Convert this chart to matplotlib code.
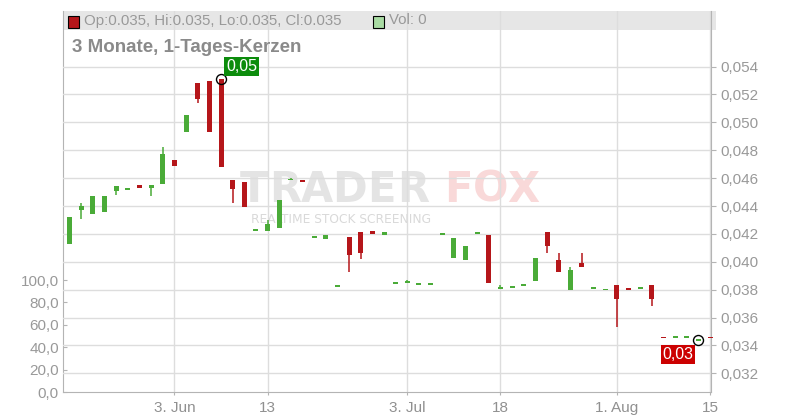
import matplotlib
matplotlib.use('Agg')
import matplotlib.pyplot as plt
from matplotlib.patches import Rectangle
import numpy as np

plt.rcParams['font.family'] = ['Liberation Sans', 'DejaVu Sans']

# Tageskerzen (3 Monate) - Open / High / Low / Close
opens = [0.0413, 0.0437, 0.0434, 0.0436, 0.0451, 0.0452, 0.0455, 0.0453, 0.0456, 0.0473,
         0.0493, 0.0528, 0.0530, 0.0531, 0.0459, 0.0457, 0.0423, 0.0422, 0.0424, 0.0459,
         0.0459, 0.0418, 0.0416, 0.0382, 0.0418, 0.0421, 0.0422, 0.0419, 0.0385, 0.0385,
         0.0384, 0.0384, 0.0420, 0.0403, 0.0401, 0.0420, 0.0419, 0.0381, 0.0382, 0.0383,
         0.0386, 0.0421, 0.0401, 0.0380, 0.0399, 0.0381, 0.0380, 0.0383, 0.0381, 0.0381,
         0.0383, 0.0346, 0.0346, 0.0346, 0.0344, 0.0346]
highs = [0.0432, 0.0442, 0.0447, 0.0447, 0.0454, 0.0452, 0.0455, 0.0455, 0.0482, 0.0473,
         0.0505, 0.0528, 0.0530, 0.0531, 0.0459, 0.0457, 0.0423, 0.0430, 0.0444, 0.0460,
         0.0459, 0.0418, 0.0419, 0.0383, 0.0418, 0.0421, 0.0422, 0.0421, 0.0385, 0.0387,
         0.0384, 0.0384, 0.0420, 0.0417, 0.0411, 0.0421, 0.0419, 0.0383, 0.0382, 0.0384,
         0.0403, 0.0421, 0.0406, 0.0396, 0.0406, 0.0381, 0.0380, 0.0383, 0.0381, 0.0381,
         0.0383, 0.0346, 0.0346, 0.0346, 0.0344, 0.0346]
lows = [0.0413, 0.0431, 0.0434, 0.0436, 0.0448, 0.0452, 0.0453, 0.0447, 0.0456, 0.0469,
        0.0493, 0.0514, 0.0493, 0.0468, 0.0442, 0.0439, 0.0422, 0.0422, 0.0424, 0.0459,
        0.0457, 0.0418, 0.0416, 0.0382, 0.0393, 0.0402, 0.0420, 0.0419, 0.0385, 0.0385,
        0.0384, 0.0384, 0.0419, 0.0403, 0.0401, 0.0420, 0.0385, 0.0381, 0.0382, 0.0383,
        0.0386, 0.0406, 0.0393, 0.0380, 0.0396, 0.0381, 0.0380, 0.0353, 0.0380, 0.0381,
        0.0368, 0.03455, 0.0346, 0.0346, 0.0344, 0.03455]
closes = [0.0432, 0.0440, 0.0447, 0.0447, 0.0454, 0.0452, 0.0453, 0.0455, 0.0477, 0.0469,
          0.0505, 0.0517, 0.0493, 0.0468, 0.0452, 0.0439, 0.0423, 0.0427, 0.0444, 0.0459,
          0.0457, 0.0418, 0.0419, 0.0383, 0.0405, 0.0406, 0.0420, 0.0421, 0.0385, 0.0386,
          0.0384, 0.0384, 0.0420, 0.0417, 0.0411, 0.0421, 0.0385, 0.0381, 0.0382, 0.0384,
          0.0403, 0.0411, 0.0393, 0.0394, 0.0396, 0.0381, 0.0380, 0.0373, 0.0380, 0.0381,
          0.0373, 0.03455, 0.0346, 0.0346, 0.0344, 0.03455]

xtick_pos = [9, 17, 29, 37, 47, 55]
xtick_labels = ['3. Jun', '13', '3. Jul', '18', '1. Aug', '15']
price_ticks = [0.032, 0.034, 0.036, 0.038, 0.040, 0.042, 0.044, 0.046, 0.048, 0.050, 0.052, 0.054]
vol_ticks = [0, 20, 40, 60, 80, 100]

green = '#4aab38'
red = '#b5161a'
grau = '#999999'

fig = plt.figure(figsize=(8, 4.2), dpi=100)
fig.patch.set_facecolor('white')

# Achsen (Pixel -> Bruchteil)
L, R, T, B = 63, 711, 10.5, 392.3
axv = fig.add_axes([L / 800, 1 - B / 420, (R - L) / 800, (B - T) / 420])
axv.patch.set_visible(False)
ax = axv.twinx()

x = np.arange(len(opens))
o = np.array(opens); c = np.array(closes); h = np.array(highs); lo = np.array(lows)
farben = np.where(c >= o, green, red)

# Dochte
for i in x:
    if h[i] > lo[i]:
        ax.vlines(i, lo[i], h[i], color=farben[i], lw=1.1, zorder=3)
# Koerper
minh = 0.00012
hoehe = np.abs(c - o)
unten = np.minimum(o, c)
mitte = (o + c) / 2
unten = np.where(hoehe < minh, mitte - minh / 2, unten)
hoehe = np.maximum(hoehe, minh)
ax.bar(x, hoehe, bottom=unten, width=0.43, color=farben, zorder=4, clip_on=False)

# Hoch / Tief Markierungen
imax = int(np.argmax(h)); imin = int(np.argmin(lo))
ax.plot(imax, h[imax], 'o', mfc='none', mec='black', ms=7.2, mew=1, zorder=6)
ax.plot(imin, lo[imin], 'o', mfc='none', mec='black', ms=7.2, mew=1, zorder=6)
ax.annotate('0,05', xy=(imax, h[imax]), xytext=(5, 5), textcoords='offset pixels',
            ha='left', va='bottom', color='white', fontsize=11.5, zorder=7,
            bbox=dict(boxstyle='square,pad=0.12', fc='#0c8c0c', ec='none'))
ax.annotate('0,03', xy=(imin, lo[imin]), xytext=(-5, -7), textcoords='offset pixels',
            ha='right', va='top', color='white', fontsize=11.5, zorder=7,
            bbox=dict(boxstyle='square,pad=0.12', fc='#cc0000', ec='none'))

# Preisachse rechts
ax.set_ylim(0.030636, 0.058024)
ax.set_yticks(price_ticks)
ax.set_yticklabels([('%.3f' % v).replace('.', ',') for v in price_ticks])
ax.tick_params(axis='y', direction='out', length=3.6, width=0.8, color='#b4b4b4',
               labelsize=11, labelcolor=grau, pad=3.4)
ax.set_axisbelow(True)
ax.grid(axis='y', color='#dddddd', lw=1)

# Volumenachse links
axv.set_ylim(0, 340)
axv.set_yticks(vol_ticks)
axv.set_yticklabels([('%.1f' % v).replace('.', ',') for v in vol_ticks])
axv.tick_params(axis='y', direction='in', length=3.2, width=0.8, color='#b4b4b4',
                labelsize=11, labelcolor=grau, pad=3)
axv.set_xlim(-0.575, 55.08)
axv.set_xticks(xtick_pos)
axv.set_xticklabels(xtick_labels)
axv.tick_params(axis='x', direction='out', length=2.2, width=0.8, color='#b4b4b4',
                labelsize=11, labelcolor='#909090', pad=4)
axv.set_axisbelow(True)
axv.grid(axis='x', color='#dddddd', lw=1)

for s in ['top', 'right']:
    axv.spines[s].set_visible(False)
for s in ['top', 'left', 'bottom']:
    ax.spines[s].set_visible(False)
axv.spines['left'].set_color('#b4b4b4')
axv.spines['bottom'].set_color('#b4b4b4')
ax.spines['right'].set_color('#b4b4b4')

# Kopfzeile
fig.add_artist(Rectangle((63 / 800, 1 - 30 / 420), (716 - 63) / 800, 19 / 420,
                         transform=fig.transFigure, fc='#e6e6e6', ec='none', zorder=-1))
fig.add_artist(Rectangle((68 / 800, 1 - 27.5 / 420), 11 / 800, 11 / 420,
                         transform=fig.transFigure, fc=red, ec='black', lw=0.8, zorder=5))
fig.text(84 / 800, 1 - 20.5 / 420, 'Op:0.035, Hi:0.035, Lo:0.035, Cl:0.035',
         fontsize=10.8, color=grau, va='center', ha='left')
fig.add_artist(Rectangle((373 / 800, 1 - 27.5 / 420), 11 / 800, 11 / 420,
                         transform=fig.transFigure, fc='#a9dba3', ec='black', lw=0.8, zorder=5))
fig.text(389 / 800, 1 - 20.5 / 420, 'Vol: 0', fontsize=10.8, color=grau, va='center', ha='left')

fig.text(72 / 800, 1 - 47 / 420, '3 Monate, 1-Tages-Kerzen', fontsize=13.5,
         fontweight='bold', color='#8a8a8a', va='center', ha='left')

# Wasserzeichen
for buchst, px in zip('TRADER', [254, 285, 317, 349, 381, 413]):
    fig.text(px / 800, 1 - 190 / 420, buchst, fontsize=30, fontweight='bold',
             color='#e4e4e4', ha='center', va='center', family='DejaVu Sans', zorder=-0.5)
for buchst, px in zip('FOX', [458, 491, 523]):
    fig.text(px / 800, 1 - 190 / 420, buchst, fontsize=30, fontweight='bold',
             color='#f9d9d9', ha='center', va='center', family='DejaVu Sans', zorder=-0.5)
fig.text(251 / 800, 1 - 219.5 / 420, 'REALTIME STOCK SCREENING', fontsize=8.8,
         color='#d9d9d9', ha='left', va='center', family='DejaVu Sans', zorder=-0.5)

fig.savefig('out.png', dpi=100)
